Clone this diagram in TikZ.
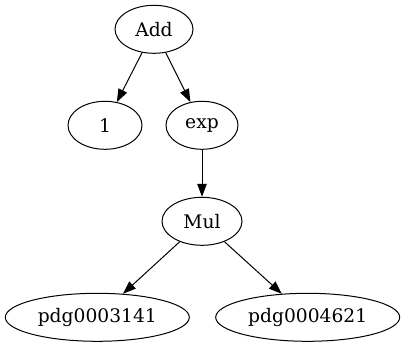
\documentclass[tikz,border=0pt]{standalone}
\usepackage{fontspec}
\setmainfont{DejaVu Serif}
\usetikzlibrary{shapes.geometric,arrows.meta}
\begin{document}
\begin{tikzpicture}[x=1pt,y=-1pt,
  treenode/.style={draw,ellipse,line width=1pt,inner sep=0pt,minimum height=48pt,font=\fontsize{18.67}{22}\selectfont},
  edge/.style={line width=1pt,-{Triangle[length=13pt,width=9.5pt]}}]
\useasboundingbox (0,0) rectangle (405,347);
\node[treenode,minimum width=78pt] (add) at (154,29.3) {Add};
\node[treenode,minimum width=74pt] (one) at (105,125.3) {1};
\node[treenode,minimum width=72pt] (exp) at (202,125.3) {exp};
\node[treenode,minimum width=80pt] (mul) at (202,221.3) {Mul};
\node[treenode,minimum width=184pt] (p1) at (97.3,317.3) {pdg0003141};
\node[treenode,minimum width=184pt] (p2) at (307.7,317.3) {pdg0004621};
\draw[edge] (add) -- (one);
\draw[edge] (add) -- (exp);
\draw[edge] (exp) -- (mul);
\draw[edge] (mul) -- (p1);
\draw[edge] (mul) -- (p2);
\end{tikzpicture}
\end{document}
